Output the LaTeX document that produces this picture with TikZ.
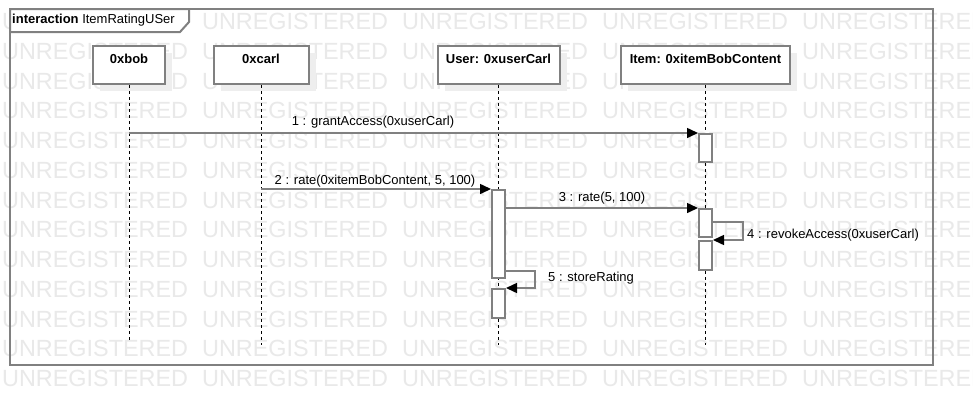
\documentclass[tikz,border=0pt]{standalone}
\usepackage{fontspec}
\setmainfont{Liberation Sans}
\usetikzlibrary{arrows.meta,shadows}
\definecolor{linegray}{RGB}{128,128,128}
\definecolor{wmgray}{RGB}{233,233,233}
\definecolor{shadowgray}{RGB}{238,238,238}
\begin{document}
\begin{tikzpicture}[x=1pt,y=-1pt,
  font=\fontsize{13pt}{15pt}\selectfont,
  wm/.style={anchor=base west, inner sep=0pt, text=wmgray, font=\fontsize{23.4pt}{25pt}\selectfont},
  frameline/.style={draw=linegray, line width=2pt},
  obj/.style={draw=linegray, line width=2pt, fill=white, inner xsep=0pt, inner ysep=7pt,
    text height=10.5pt, text depth=13.5pt, anchor=north,
    font=\fontsize{13pt}{15pt}\selectfont\bfseries,
    general shadow={fill=shadowgray, shadow xshift=7pt, shadow yshift=-7pt}},
  lifeline/.style={draw=black, line width=1pt, dash pattern=on 3pt off 3pt},
  act/.style={draw=linegray, line width=2pt, fill=white, minimum width=13pt, inner sep=0pt, anchor=north},
  msg/.style={draw=linegray, line width=1.5pt, -{Triangle[length=11pt,width=10pt,color=black]}},
  lbl/.style={inner sep=0pt, font=\fontsize{13pt}{15pt}\selectfont}]
\useasboundingbox (0,0) rectangle (973,405);
\fill[white] (0,0) rectangle (973,405);
% watermark
\foreach \r in {0,...,12}{
  \foreach \c in {0,...,4}{
    \node[wm] (wm-\r-\c) at ({2+200*\c},{29.5+29.75*\r}) {UNREGISTERED};
  }
}
% frame
\draw[frameline] (10,9) rectangle (933,365);
\draw[frameline, fill=white] (10,9) -- (189,9) -- (189,22) -- (180,32) -- (10,32) -- cycle;
\node[anchor=west, inner sep=0pt] (title) at (12,20.5) {\textbf{interaction} ItemRatingUSer};
% objects
\node[obj, minimum width=72pt] (bob) at (129,45) {0xbob};
\node[obj, minimum width=95pt] (carl) at (261,45) {0xcarl};
\node[obj, minimum width=122pt] (user) at (498.5,45) {User: 0xuserCarl};
\node[obj, minimum width=169pt] (item) at (705.5,45) {Item: 0xitemBobContent};
% lifelines
\coordinate (bobend) at (129,340);
\coordinate (carlend) at (261,345);
\coordinate (userend) at (498.5,345);
\coordinate (itemend) at (705.5,345);
\draw[lifeline] (bob.south) -- (bobend);
\draw[lifeline] (carl.south) -- (carlend);
\draw[lifeline] (user.south) -- (userend);
\draw[lifeline] (item.south) -- (itemend);
% activations
\node[act, minimum height=28pt] (a1) at (705.5,133) {};
\node[act, minimum height=88pt] (u1) at (498.5,189) {};
\node[act, minimum height=28pt] (a2) at (705.5,208) {};
\node[act, minimum height=29pt] (a3) at (705.5,240) {};
\node[act, minimum height=29pt] (u2) at (498.5,288) {};
% messages
\draw[msg] (bob.south |- a1.north west) -- (a1.north west);
\draw[msg] (carl.south |- u1.north west) -- (u1.north west);
\draw[msg] (u1.east |- a2.north west) -- (a2.north west);
\draw[msg] ([yshift=1pt]a2.east) -- ++(30,0) |- (a3.north east);
\draw[msg] ([yshift=8pt]u1.south east) -- ++(29,0) |- (u2.north east);
% labels
\node[lbl] (l1) at (373,122) {1 : grantAccess(0xuserCarl)};
\node[lbl] (l2) at (375,181) {2 : rate(0xitemBobContent, 5, 100)};
\node[lbl] (l3) at (602,198) {3 : rate(5, 100)};
\node[lbl, anchor=west] (l4) at (747,235) {4 : revokeAccess(0xuserCarl)};
\node[lbl, anchor=west] (l5) at (548,278) {5 : storeRating};
\end{tikzpicture}
\end{document}
